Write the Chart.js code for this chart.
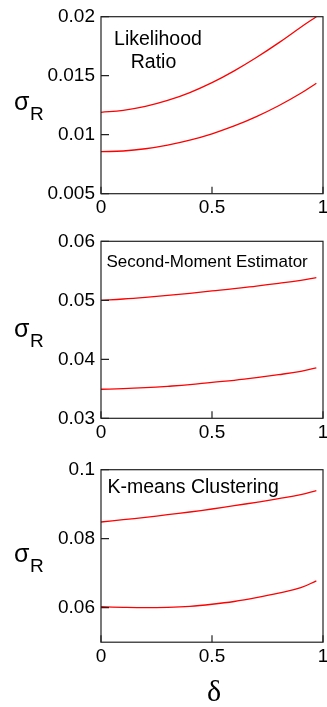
<!DOCTYPE html>
<html>
<head>
<meta charset="utf-8">
<script src="https://cdn.jsdelivr.net/npm/chart.js@4"></script>
<style>
body{margin:0;background:#fff;width:327px;height:707px;position:relative;overflow:hidden}
canvas{position:absolute;left:0}
</style>
</head>
<body>
<canvas id="lr" width="327" height="230" style="top:0"></canvas>
<canvas id="sm" width="327" height="230" style="top:230px"></canvas>
<canvas id="km" width="327" height="247" style="top:460px"></canvas>
<script>
// delta values along the x axis
const deltas = [0, 0.1, 0.2, 0.3, 0.4, 0.5, 0.6, 0.7, 0.8, 0.9, 0.97];

// Likelihood Ratio
const lrUpper = [0.0119, 0.01207, 0.0124, 0.0129, 0.01357, 0.01441, 0.01541, 0.01654, 0.01778, 0.01911, 0.02];
const lrLower = [0.00856, 0.00862, 0.00881, 0.00912, 0.00954, 0.01008, 0.01074, 0.01153, 0.01245, 0.01351, 0.01436];
// Second-Moment Estimator
const smUpper = [0.05, 0.05022, 0.05051, 0.05085, 0.05119, 0.05158, 0.05197, 0.05242, 0.05288, 0.05339, 0.05383];
const smLower = [0.03492, 0.03502, 0.03519, 0.03542, 0.0357, 0.0361, 0.03644, 0.03688, 0.03739, 0.03797, 0.03853];
// K-means Clustering
const kmUpper = [0.08484, 0.08551, 0.0862, 0.08696, 0.08774, 0.08861, 0.08957, 0.09055, 0.09159, 0.09275, 0.09391];
const kmLower = [0.0603, 0.0601, 0.06, 0.0601, 0.0604, 0.061, 0.0618, 0.0629, 0.0642, 0.0658, 0.0678];

// tick labels
const xTicks = [0, 0.5, 1];
const lrTicks = [0.005, 0.01, 0.015, 0.02];
const smTicks = [0.03, 0.04, 0.05, 0.06];
const kmTicks = [0.06, 0.08, 0.1];

const SANS = '"Liberation Sans", Arial, Helvetica, sans-serif';

function toPoints(ys) {
  return deltas.map((d, i) => ({x: d, y: ys[i]}));
}

function makePanel(id, upper, lower, yTicks, yMin, yMax, p) {
  const cv = document.getElementById(id);
  const H = cv.height;

  const decor = {
    id: 'decor',
    afterDraw(chart) {
      const ctx = chart.ctx;
      const a = chart.chartArea;
      ctx.save();
      ctx.strokeStyle = '#222';
      ctx.lineWidth = 1.2;
      ctx.strokeRect(a.left, a.top, a.right - a.left, a.bottom - a.top);
      // inward ticks
      ctx.beginPath();
      yTicks.forEach(v => {
        const y = chart.scales.y.getPixelForValue(v);
        ctx.moveTo(a.left, y); ctx.lineTo(a.left + 8, y);
      });
      xTicks.forEach(v => {
        const x = chart.scales.x.getPixelForValue(v);
        ctx.moveTo(x, a.bottom); ctx.lineTo(x, a.bottom - 7);
      });
      ctx.stroke();
      // panel notes
      ctx.fillStyle = '#000';
      ctx.textBaseline = 'alphabetic';
      p.notes.forEach(n => {
        ctx.font = n.size + 'px ' + SANS;
        ctx.textAlign = n.align;
        ctx.fillText(n.text, n.x, n.y);
      });
      // sigma_R label
      ctx.textAlign = 'left';
      ctx.font = '25px ' + SANS;
      ctx.fillText('σ', 14, p.sigmaY);
      ctx.font = '19px ' + SANS;
      ctx.fillText('R', 30, p.sigmaY + 10);
      if (p.delta) {
        ctx.font = '30px "Liberation Serif", "Times New Roman", serif';
        ctx.textAlign = 'center';
        ctx.fillText('δ', 214, p.delta);
      }
      ctx.restore();
    }
  };

  return new Chart(cv, {
    type: 'line',
    data: {
      datasets: [
        {data: toPoints(upper), borderColor: '#ff0000', borderWidth: 1.3, pointRadius: 0, tension: 0.4, fill: false},
        {data: toPoints(lower), borderColor: '#ff0000', borderWidth: 1.3, pointRadius: 0, tension: 0.4, fill: false}
      ]
    },
    options: {
      responsive: false,
      animation: false,
      devicePixelRatio: 1,
      layout: {padding: {top: p.top, right: 4, left: 0, bottom: 0}},
      plugins: {legend: {display: false}, tooltip: {enabled: false}},
      scales: {
        x: {
          type: 'linear', min: 0, max: 1,
          grid: {display: false, drawTicks: false},
          border: {display: false},
          afterBuildTicks: s => { s.ticks = xTicks.map(v => ({value: v})); },
          afterFit: s => { s.height = H - p.bottom; s.paddingLeft = 0; s.paddingRight = 0; },
          ticks: {
            color: '#000', padding: 3, maxRotation: 0, autoSkip: false,
            font: {family: SANS, size: 19},
            callback: v => String(v)
          }
        },
        y: {
          type: 'linear', min: yMin, max: yMax,
          grid: {display: false, drawTicks: false},
          border: {display: false},
          afterBuildTicks: s => { s.ticks = yTicks.map(v => ({value: v})); },
          afterFit: s => { s.width = 101; s.paddingTop = 0; s.paddingBottom = 0; },
          ticks: {
            color: '#000', padding: 6, autoSkip: false,
            font: {family: SANS, size: 19},
            callback: v => String(v)
          }
        }
      }
    },
    plugins: [decor]
  });
}

makePanel('lr', lrUpper, lrLower, lrTicks, 0.005, 0.02, {
  top: 16.7, bottom: 193.7, sigmaY: 110,
  notes: [
    {text: 'Likelihood', x: 158, y: 45, size: 19.5, align: 'center'},
    {text: 'Ratio', x: 153.5, y: 68, size: 19.5, align: 'center'}
  ]
});
makePanel('sm', smUpper, smLower, smTicks, 0.03, 0.06, {
  top: 11.3, bottom: 188.3, sigmaY: 107,
  notes: [{text: 'Second-Moment Estimator', x: 106.5, y: 37, size: 17, align: 'left'}]
});
makePanel('km', kmUpper, kmLower, kmTicks, 0.05, 0.1, {
  top: 9.7, bottom: 182.2, sigmaY: 102, delta: 241,
  notes: [{text: 'K-means Clustering', x: 107.5, y: 32.7, size: 19.5, align: 'left'}]
});
</script>
</body>
</html>
